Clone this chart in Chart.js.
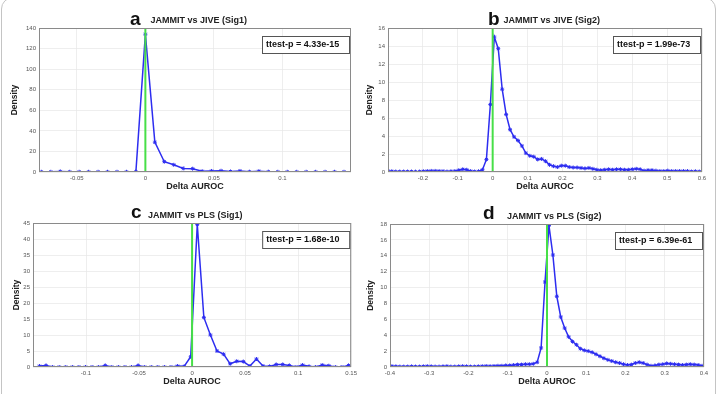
<!DOCTYPE html>
<html>
<head>
<meta charset="utf-8">
<script src="https://cdn.jsdelivr.net/npm/chart.js@4.4.1/dist/chart.umd.min.js"></script>
<style>
  html, body { margin: 0; padding: 0; background: #fff; }
  #wrap { position: relative; width: 719px; height: 394px; overflow: hidden; }
  #frame { position: absolute; left: 1px; top: -3px; width: 713px; height: 420px; border: 1.5px solid #c4c4c4; border-radius: 12px; }
  canvas { position: absolute; }
</style>
</head>
<body>
<div id="wrap">
  <div id="frame"></div>
  <canvas id="pa" width="360" height="197" style="left:0;top:0"></canvas>
  <canvas id="pb" width="359" height="197" style="left:360px;top:0"></canvas>
  <canvas id="pc" width="360" height="197" style="left:0;top:197px"></canvas>
  <canvas id="pd" width="359" height="197" style="left:360px;top:197px"></canvas>
</div>
<script>
// histogram bins: first bin centre + width, densities per bin
const binStartA = -0.0759, binWidthA = 0.0069;
const densityA = [0.2, 0.2, 0.6, 0.2, 0.2, 0.2, 0.2, 0.2, 0.2, 0.2, 0.5,
  134, 29, 10, 7, 3.5, 3.2, 0.8, 1, 1.2, 0.5, 1, 0.3, 0.8, 0.3,
  0.2, 0.2, 0.2, 0.2, 0.2, 0.2, 0.2, 0.2];

const binStartB = -0.3004, binWidthB = 0.0113;
const densityB = [0.1, 0.08, 0.05, 0.05, 0.05, 0.05, 0.05, 0.04, 0.05, 0.08,
  0.1, 0.12, 0.12, 0.1, 0.08, 0.05, 0.08, 0.1, 0.2, 0.3,
  0.25, 0.1, 0.05, 0.08, 0.25, 1.4, 7.5, 15.0, 13.7, 9.2,
  6.4, 4.7, 3.9, 3.5, 2.9, 2.1, 1.8, 1.7, 1.4, 1.45,
  1.2, 0.8, 0.65, 0.55, 0.7, 0.7, 0.55, 0.5, 0.5, 0.45,
  0.4, 0.45, 0.35, 0.25, 0.2, 0.25, 0.3, 0.25, 0.3, 0.3,
  0.25, 0.25, 0.3, 0.35, 0.3, 0.15, 0.2, 0.2, 0.15, 0.1,
  0.1, 0.15, 0.1, 0.1, 0.1, 0.1, 0.1, 0.05, 0.08, 0.05];

const binStartC = -0.1439, binWidthC = 0.0062;
const densityC = [0.3, 0.5, 0, 0, 0, 0, 0, 0, 0, 0, 0.5, 0, 0, 0, 0, 0.5, 0, 0, 0, 0, 0, 0.3, 0.2,
  3.2, 44.5, 15.5, 10, 5, 4, 1, 1.8, 1.7, 0.3, 2.5, 0.3, 0.2, 0.8, 0.8, 0.5, 0, 0.6, 0.2, 0, 0.6, 0.4, 0, 0, 0.5];

const binStartD = -0.395, binWidthD = 0.01;
const densityD = [0.1, 0.08, 0.05, 0.05, 0.05, 0.08, 0.05, 0.05, 0.08, 0.1,
  0.08, 0.05, 0.05, 0.08, 0.1, 0.05, 0.05, 0.08, 0.1, 0.08,
  0.05, 0.05, 0.08, 0.1, 0.12, 0.1, 0.12, 0.15, 0.15, 0.2,
  0.2, 0.25, 0.3, 0.3, 0.35, 0.35, 0.4, 0.6, 2.4, 10.7,
  17.8, 14.1, 8.9, 6.3, 4.9, 3.8, 3.2, 2.8, 2.3, 2.1,
  2.0, 1.85, 1.6, 1.35, 1.1, 0.9, 0.75, 0.6, 0.5, 0.35,
  0.25, 0.3, 0.5, 0.6, 0.5, 0.3, 0.15, 0.2, 0.3, 0.35,
  0.45, 0.4, 0.35, 0.3, 0.25, 0.3, 0.35, 0.3, 0.25, 0.15];

const xTicksA = [-0.05, 0, 0.05, 0.1];
const xTicksB = [-0.2, -0.1, 0, 0.1, 0.2, 0.3, 0.4, 0.5, 0.6];
const xTicksC = [-0.1, -0.05, 0, 0.05, 0.1, 0.15];
const xTicksD = [-0.4, -0.3, -0.2, -0.1, 0, 0.1, 0.2, 0.3, 0.4];

const titles = ['JAMMIT vs JIVE (Sig1)', 'JAMMIT vs JIVE (Sig2)', 'JAMMIT vs PLS (Sig1)', 'JAMMIT vs PLS (Sig2)'];
const letters = ['a', 'b', 'c', 'd'];
const pValues = ['ttest-p = 4.33e-15', 'ttest-p = 1.99e-73', 'ttest-p = 1.68e-10', 'ttest-p = 6.39e-61'];

const FONT = '"Liberation Sans", Arial, sans-serif';

function toPoints(start, width, dens) {
    return dens.map((d, i) => ({ x: start + i * width, y: d }));
}

const boxPlugin = {
    id: 'boxPlugin',
    afterDraw(chart, args, opts) {
        const { ctx, chartArea: a } = chart;
        ctx.save();
        ctx.strokeStyle = '#8a8a8a';
        ctx.lineWidth = 1;
        ctx.strokeRect(a.left + 0.5, a.top + 0.5, a.right - a.left - 1, a.bottom - a.top - 1);

        // p-value box
        const bx = a.right - 89, by = a.top + 8;
        ctx.fillStyle = '#fff';
        ctx.fillRect(bx, by, 87, 17);
        ctx.strokeStyle = '#555';
        ctx.strokeRect(bx + 0.5, by + 0.5, 87, 17);
        ctx.fillStyle = '#111';
        ctx.font = 'bold 9px ' + FONT;
        ctx.textBaseline = 'middle';
        ctx.fillText(opts.p, bx + 4, by + 9);

        // panel letter and title
        ctx.textBaseline = 'alphabetic';
        ctx.font = 'bold 19px ' + FONT;
        ctx.fillText(opts.letter, opts.lx, opts.ly);
        ctx.font = 'bold 9px ' + FONT;
        ctx.fillStyle = '#222';
        ctx.fillText(opts.title, opts.tx, opts.ty);
        ctx.restore();
    }
};

function makePanel(id, cfg) {
    const tickFont = { family: FONT, size: 6 };
    const titleFont = { family: FONT, size: 9, weight: 'bold' };
    new Chart(document.getElementById(id), {
        type: 'line',
        data: {
            datasets: [{
                data: [{ x: 0, y: 0 }, { x: 0, y: cfg.yMax }],
                borderColor: '#47df47',
                borderWidth: 2,
                pointRadius: 0,
                order: 0
            }, {
                data: cfg.points,
                borderColor: '#2d2df0',
                backgroundColor: '#2d2df0',
                borderWidth: 1.5,
                pointStyle: 'star',
                pointRadius: 2,
                pointBorderWidth: 1,
                tension: 0,
                order: 1
            }]
        },
        options: {
            responsive: false,
            animation: false,
            layout: { padding: { top: cfg.top, right: cfg.right, left: 0, bottom: 0 } },
            plugins: {
                legend: { display: false },
                tooltip: { enabled: false },
                boxPlugin: cfg.labels
            },
            scales: {
                x: {
                    type: 'linear',
                    min: cfg.xMin,
                    max: cfg.xMax,
                    afterBuildTicks: s => { s.ticks = cfg.xTicks.map(v => ({ value: v })); },
                    afterFit: s => { s.height = cfg.xH; },
                    grid: { color: '#e6e6e6', lineWidth: 0.7, drawTicks: false },
                    border: { display: false },
                    ticks: {
                        font: tickFont, color: '#555', padding: 3, maxRotation: 0,
                        callback: v => String(Number(v.toFixed(3)))
                    },
                    title: { display: true, text: 'Delta AUROC', font: titleFont, color: '#222', padding: { top: 0, bottom: cfg.xtPad } }
                },
                y: {
                    min: 0,
                    max: cfg.yMax,
                    afterFit: s => { s.width = cfg.yW; },
                    grid: { color: '#e6e6e6', lineWidth: 0.7, drawTicks: false },
                    border: { display: false },
                    ticks: { font: tickFont, color: '#555', padding: 3, stepSize: cfg.yStep },
                    title: { display: true, text: 'Density', font: { family: FONT, size: 8.5, weight: 'bold' }, color: '#222', padding: { top: cfg.ytPad, bottom: 0 } }
                }
            }
        },
        plugins: [boxPlugin]
    });
}

makePanel('pa', {
    points: toPoints(binStartA, binWidthA, densityA), xTicks: xTicksA,
    xMin: -0.0776, xMax: 0.15, yMax: 140, yStep: 20,
    top: 28, right: 9, yW: 39, xH: 25, xtPad: 5, ytPad: 10,
    labels: { p: pValues[0], letter: letters[0], title: titles[0], lx: 130, ly: 25, tx: 150.5, ty: 23 }
});
makePanel('pb', {
    points: toPoints(binStartB, binWidthB, densityB), xTicks: xTicksB,
    xMin: -0.3, xMax: 0.6, yMax: 16, yStep: 2,
    top: 28, right: 17, yW: 28, xH: 25, xtPad: 5, ytPad: 5,
    labels: { p: pValues[1], letter: letters[1], title: titles[1], lx: 128, ly: 25, tx: 143.5, ty: 23 }
});
makePanel('pc', {
    points: toPoints(binStartC, binWidthC, densityC), xTicks: xTicksC,
    xMin: -0.15, xMax: 0.15, yMax: 45, yStep: 5,
    top: 26, right: 8, yW: 33, xH: 27, xtPad: 7, ytPad: 12,
    labels: { p: pValues[2], letter: letters[2], title: titles[2], lx: 131, ly: 21, tx: 148, ty: 21 }
});
makePanel('pd', {
    points: toPoints(binStartD, binWidthD, densityD), xTicks: xTicksD,
    xMin: -0.4, xMax: 0.4, yMax: 18, yStep: 2,
    top: 27, right: 15, yW: 30, xH: 27, xtPad: 7, ytPad: 6,
    labels: { p: pValues[3], letter: letters[3], title: titles[3], lx: 123, ly: 22, tx: 147, ty: 22 }
});
</script>
</body>
</html>
